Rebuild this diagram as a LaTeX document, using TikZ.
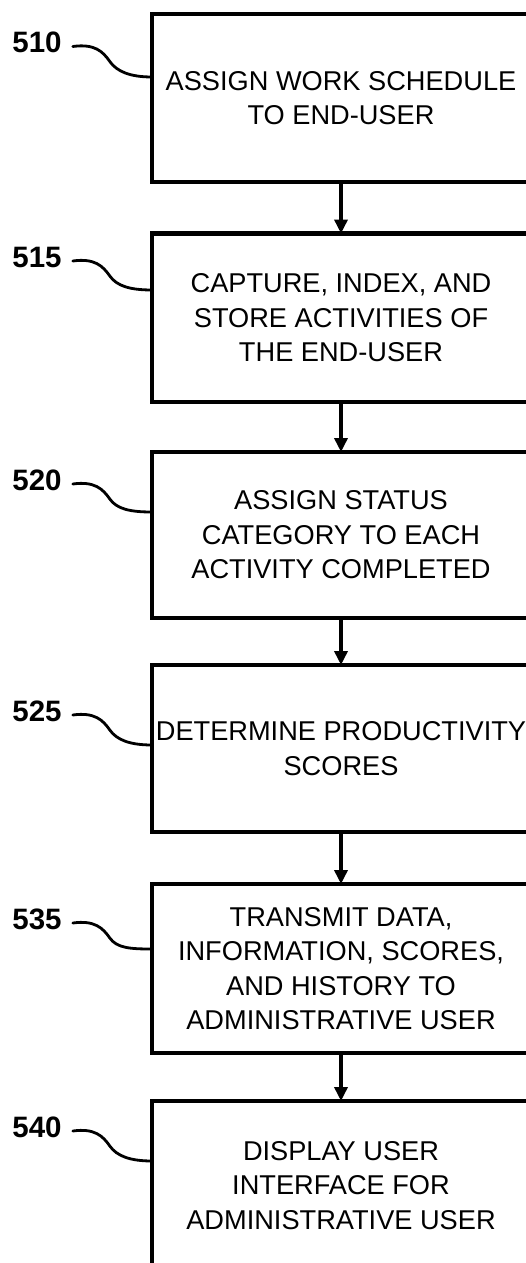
\documentclass[tikz,border=0pt]{standalone}
\usepackage{fontspec}
\setmainfont{Liberation Sans}
\usetikzlibrary{arrows.meta}
\tikzset{
  stepbox/.style={draw, line width=4.5pt, minimum width=378pt, inner sep=0pt,
    outer sep=0pt, align=center, font=\fontsize{27.2}{34.5}\selectfont},
  reflabel/.style={inner sep=0pt, font=\fontsize{29.5}{30}\selectfont\bfseries},
  flow/.style={line width=4.5pt, -{Triangle[width=13pt,length=14pt]}},
  leader/.style={line width=2.8pt, line cap=round}
}
\begin{document}
\begin{tikzpicture}[x=1pt, y=-1pt]
  \useasboundingbox (0,0) rectangle (526,1263);
  \fill[white] (0,0) rectangle (526,1263);
  \clip (0,0) rectangle (526,1263);

  % process steps
  \node[stepbox, minimum height=168pt] (s510) at (341,98)
    {ASSIGN WORK SCHEDULE\\TO END-USER};
  \node[stepbox, minimum height=168.5pt] (s515) at (341,317.75)
    {CAPTURE, INDEX, AND\\STORE ACTIVITIES OF\\THE END-USER};
  \node[stepbox, minimum height=166pt] (s520) at (341,535)
    {ASSIGN STATUS\\CATEGORY TO EACH\\ACTIVITY COMPLETED};
  \node[stepbox, minimum height=167pt] (s525) at (341,748.5)
    {DETERMINE PRODUCTIVITY\\SCORES};
  \node[stepbox, minimum height=169pt] (s535) at (341,968.5)
    {TRANSMIT DATA,\\INFORMATION, SCORES,\\AND HISTORY TO\\ADMINISTRATIVE USER};
  \node[stepbox, minimum height=169pt] (s540) at (341,1185.5)
    {DISPLAY USER\\INTERFACE FOR\\ADMINISTRATIVE USER};

  % flow arrows
  \draw[flow] (s510.south) -- (s515.north);
  \draw[flow] (s515.south) -- (s520.north);
  \draw[flow] (s520.south) -- (s525.north);
  \draw[flow] (s525.south) -- (s535.north);
  \draw[flow] (s535.south) -- (s540.north);

  % reference numerals with their leader curves
  \foreach \n/\c/\e in {510/42.5/77, 515/257/290, 520/480/512,
                         525/711/745, 535/919/949, 540/1127/1161} {
    \node[reflabel] (l\n) at (37,\c) {\n};
    \draw[leader] ([shift={(11,4)}]l\n.east)
      .. controls +(22,-3) and +(-7,-10) .. ++(37,15)
      .. controls +(7,10) and +(-22,0) .. (s\n.west |- 0,\e);
  }
\end{tikzpicture}
\end{document}
